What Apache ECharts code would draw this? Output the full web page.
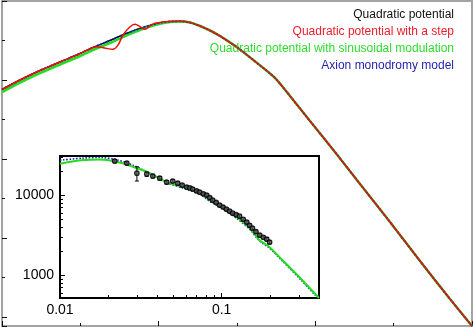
<!DOCTYPE html>
<html><head><meta charset="utf-8">
<script src="https://cdn.jsdelivr.net/npm/echarts@6/dist/echarts.min.js"></script>
<style>html,body{margin:0;padding:0;background:#fff}#c{width:474px;height:328px}</style>
</head><body><div id="c"></div>
<script>
// ---------- legend ----------
const legendNames = ['Quadratic potential', 'Quadratic potential with a step',
  'Quadratic potential with sinusoidal modulation', 'Axion monodromy model'];
const legendColors = ['#111111', '#ee1c2a', '#2edc2e', '#2424b0'];
const lineColors = ['#000000', '#e81010', '#22dd22', '#2020b8'];

// ---------- main panel (log k vs log P) ----------
const MAIN_X_MIN = 1e-4, MAIN_X_MAX = 100;
const MAIN_Y_MIN = 5.9e-4, MAIN_Y_MAX = 1e5;
const mainK = [1e-4, 1.70e-4, 3.05e-4, 5.50e-4, 9.9e-4, 1.45e-3, 2.39e-3, 3.72e-3, 5.78e-3, 8.98e-3,
  1.40e-2, 1.87e-2, 2.51e-2, 3.37e-2, 4.52e-2, 6.07e-2, 8.14e-2, 0.103, 0.180, 0.297,
  0.375, 0.475, 0.855, 1.78, 3.72, 8.98, 21.7, 52.4, 100];
const mainQuad = [574, 1000, 1738, 2852, 4684, 6645, 9990, 14600, 20120, 26160,
  30260, 30620, 28550, 23280, 17910, 12990, 8890, 6450, 2692, 1190,
  704, 393, 91.5, 15.0, 2.32, 0.253, 0.0261, 2.84e-3, 5.9e-4];
const mainAxion = [574, 1000, 1738, 2852, 4684, 6645, 9990, 14600, 20120, 26160,
  30260, 30620, 28550, 23280, 17910, 12990, 8890, 6450, 2692, 1190,
  704, 393, 91.5, 15.0, 2.32, 0.253, 0.0261, 2.84e-3, 5.9e-4];
const mainSin = [496, 864, 1502, 2466, 4048, 5743, 8640, 12990, 18430, 24680,
  29390, 30500, 28550, 23280, 17910, 12990, 8890, 6450, 2692, 1190,
  704, 393, 91.5, 15.0, 2.32, 0.253, 0.0261, 2.84e-3, 5.9e-4];
const mainStepK = [1e-4, 1.70e-4, 3.05e-4, 5.50e-4, 9.9e-4, 1.45e-3, 1.63e-3, 1.95e-3, 2.61e-3, 3.03e-3,
  3.51e-3, 4.31e-3, 4.99e-3, 5.78e-3, 6.69e-3, 7.75e-3, 8.98e-3, 1.40e-2, 1.87e-2, 2.51e-2,
  3.37e-2, 4.52e-2, 6.07e-2, 8.14e-2, 0.103, 0.180, 0.297, 0.375, 0.475, 0.855,
  1.78, 3.72, 8.98, 21.7, 52.4, 100];
const mainStep = [574, 1000, 1738, 2852, 4684, 6645, 6960, 6570, 5980, 7690,
  13770, 22340, 25700, 22340, 19200, 23280, 27240, 30260, 30620, 28550,
  23280, 17910, 12990, 8890, 6450, 2692, 1190, 704, 393, 91.5,
  15.0, 2.32, 0.253, 0.0261, 2.84e-3, 5.9e-4];

// ---------- inset panel ----------
const INSET_X_MIN = 0.01, INSET_X_MAX = 0.4;
const INSET_Y_MIN = 520, INSET_Y_MAX = 30800;
const insetK = [0.01, 0.01387, 0.01765, 0.02248, 0.02822, 0.03594, 0.04576, 0.05743, 0.0731, 0.0843,
  0.1, 0.1238, 0.1489, 0.1717, 0.1978, 0.238, 0.303, 0.3857, 0.4];
const insetSin = [24700, 27400, 27950, 26070, 22580, 18840, 14540, 12590, 10590, 8660,
  7080, 5310, 3870, 2740, 2240, 1540, 944, 562, 522];
const insetAxion = [27300, 29000, 29500, 27600, 23700, 18700, 14300, 12300, 10300, 8400,
  6900, 5150, 3760, 2670, 2180, 1500, 915, 545, 508];
const dataK = [0.0218, 0.0259, 0.0299, 0.0344, 0.0375, 0.0414, 0.0457, 0.0498, 0.0535, 0.0570,
  0.0608, 0.0635, 0.0662, 0.0700, 0.0731, 0.0770, 0.0808, 0.0845, 0.0880, 0.0925,
  0.0972, 0.102, 0.107, 0.112, 0.117, 0.123, 0.129, 0.136, 0.143, 0.149,
  0.155, 0.163, 0.172, 0.181, 0.190, 0.198];
const dataP = [26600, 25100, 18800, 18300, 17300, 16300, 14500, 15000, 14100, 13300,
  12600, 12300, 11900, 11300, 10900, 10400, 10000, 9300, 8660, 8100,
  7500, 7100, 6680, 6300, 5960, 5700, 5460, 5000, 4600, 4200,
  3870, 3500, 3160, 2980, 2820, 2590];
const dataSigma = [1300, 1200, 3800, 1100, 900, 800, 700, 700, 600, 500,
  500, 450, 450, 400, 400, 380, 360, 330, 320, 300,
  280, 260, 250, 230, 220, 210, 200, 190, 170, 160,
  150, 140, 130, 120, 110, 100];
const insetXMinorTicks = [0.02, 0.03, 0.04, 0.05, 0.06, 0.07, 0.08, 0.09, 0.2, 0.3];
const insetYMinorTicks = [600, 700, 800, 900, 2000, 3000, 4000, 5000, 6000, 7000, 8000, 9000, 20000, 30000];

const FONT = "'Liberation Sans', Arial, Helvetica, sans-serif";
const GREY = '#a3a3a3';
const zip = (a, b) => a.map((v, i) => [v, b[i]]);
const isPow10 = v => { const e = Math.log10(v); return Math.abs(e - Math.round(e)) < 1e-6; };

const chart = echarts.init(document.getElementById('c'), null, { renderer: 'canvas' });
const noLabel = () => ({ show: false });
const noSplit = () => ({ show: false });
const hiddenLine = () => ({ show: false, onZero: false });

chart.setOption({
  animation: false,
  backgroundColor: '#fff',
  legend: {
    data: legendNames.map((n, i) => ({ name: n, textStyle: { color: legendColors[i] } })),
    orient: 'vertical', right: 10, top: 1, align: 'right',
    icon: 'none', itemWidth: 0, itemHeight: 17, itemGap: 0,
    selectedMode: false,
    textStyle: { fontSize: 12, fontFamily: FONT, lineHeight: 17 }
  },
  grid: [
    { left: 2, right: 2, top: 1, bottom: 2, show: true, borderColor: GREY, borderWidth: 2,
      containLabel: false, outerBoundsMode: 'none' },
    { left: 60, top: 156, width: 259, height: 142, show: true, backgroundColor: '#fff',
      borderColor: '#000', borderWidth: 2, containLabel: false, outerBoundsMode: 'none' }
  ],
  xAxis: [
    { type: 'log', gridIndex: 0, min: MAIN_X_MIN, max: MAIN_X_MAX, position: 'bottom',
      axisLine: { show: true, onZero: false, lineStyle: { color: GREY, width: 2 } },
      axisTick: { show: true, inside: true, length: 3, lineStyle: { color: '#111', width: 1 } },
      axisLabel: noLabel(), splitLine: noSplit() },
    { type: 'value', gridIndex: 0, min: Math.log10(MAIN_X_MIN), max: Math.log10(MAIN_X_MAX), interval: 2,
      position: 'bottom', offset: 0,
      axisLine: hiddenLine(),
      axisTick: { show: true, inside: true, length: 5, lineStyle: { color: '#111', width: 1 } },
      axisLabel: noLabel(), splitLine: noSplit(), splitArea: { show: false } },
    { type: 'log', gridIndex: 1, min: INSET_X_MIN, max: INSET_X_MAX, position: 'bottom',
      axisLine: { show: true, onZero: false, lineStyle: { color: '#000', width: 2 } },
      axisTick: { show: true, inside: true, length: 5, lineStyle: { color: '#000', width: 1 } },
      axisLabel: { show: true, fontSize: 14, fontFamily: FONT, color: '#000', margin: 5,
        formatter: v => isPow10(v) ? String(v) : '' },
      splitLine: noSplit() },
    { type: 'value', gridIndex: 1, min: Math.log10(INSET_X_MIN), max: Math.log10(INSET_X_MAX),
      position: 'bottom', offset: 0,
      axisLine: hiddenLine(),
      axisTick: { show: true, inside: true, length: 3, lineStyle: { color: '#000', width: 1 },
        customValues: insetXMinorTicks.map(Math.log10) },
      axisLabel: noLabel(), splitLine: noSplit(), splitArea: { show: false } }
  ],
  yAxis: [
    { type: 'log', gridIndex: 0, min: MAIN_Y_MIN, max: MAIN_Y_MAX, position: 'left',
      axisLine: { show: true, onZero: false, lineStyle: { color: GREY, width: 2 } },
      axisTick: { show: true, inside: true, length: 3, lineStyle: { color: '#111', width: 1 } },
      axisLabel: noLabel(), splitLine: noSplit() },
    { type: 'value', gridIndex: 0, min: 0, max: Math.log10(MAIN_Y_MAX) - Math.log10(MAIN_Y_MIN),
      interval: 2, inverse: true, position: 'left', offset: 0,
      axisLine: hiddenLine(),
      axisTick: { show: true, inside: true, length: 5, lineStyle: { color: '#111', width: 1 } },
      axisLabel: noLabel(), splitLine: noSplit(), splitArea: { show: false } },
    { type: 'log', gridIndex: 1, min: INSET_Y_MIN, max: INSET_Y_MAX, position: 'left',
      axisLine: { show: true, onZero: false, lineStyle: { color: '#000', width: 2 } },
      axisTick: { show: true, inside: true, length: 5, lineStyle: { color: '#000', width: 1 } },
      axisLabel: { show: true, fontSize: 14, fontFamily: FONT, color: '#000', margin: 6,
        formatter: v => isPow10(v) ? String(v) : '' },
      splitLine: noSplit() },
    { type: 'value', gridIndex: 1, min: Math.log10(INSET_Y_MIN), max: Math.log10(INSET_Y_MAX),
      position: 'left', offset: 0,
      axisLine: hiddenLine(),
      axisTick: { show: true, inside: true, length: 3, lineStyle: { color: '#000', width: 1 },
        customValues: insetYMinorTicks.map(Math.log10) },
      axisLabel: noLabel(), splitLine: noSplit(), splitArea: { show: false } }
  ],
  series: [
    // main panel
    { name: legendNames[0], type: 'line', xAxisIndex: 0, yAxisIndex: 0, data: zip(mainK, mainQuad),
      showSymbol: false, symbol: 'none', smooth: 0.35, lineStyle: { color: lineColors[0], width: 1.5 },
      itemStyle: { color: lineColors[0] }, z: 2 },
    { name: legendNames[2], type: 'line', xAxisIndex: 0, yAxisIndex: 0, data: zip(mainK, mainSin),
      showSymbol: false, symbol: 'none', smooth: 0.35, lineStyle: { color: lineColors[2], width: 2.6 },
      itemStyle: { color: lineColors[2] }, z: 3 },
    { name: legendNames[3], type: 'line', xAxisIndex: 0, yAxisIndex: 0, data: zip(mainK, mainAxion),
      showSymbol: false, symbol: 'none', smooth: 0.35, lineStyle: { color: lineColors[3], width: 1.8, type: 'dotted' },
      itemStyle: { color: lineColors[3] }, z: 4 },
    { name: legendNames[1], type: 'line', xAxisIndex: 0, yAxisIndex: 0, data: zip(mainStepK, mainStep),
      showSymbol: false, symbol: 'none', smooth: 0.35, lineStyle: { color: lineColors[1], width: 1.5 },
      itemStyle: { color: lineColors[1] }, z: 5 },
    // inset
    { name: legendNames[3], type: 'line', xAxisIndex: 2, yAxisIndex: 2, data: zip(insetK, insetAxion),
      showSymbol: false, symbol: 'none', smooth: 0.3, lineStyle: { color: lineColors[3], width: 1.6, type: 'dotted' },
      itemStyle: { color: lineColors[3] }, z: 6 },
    { name: legendNames[2], type: 'line', xAxisIndex: 2, yAxisIndex: 2, data: zip(insetK, insetSin),
      showSymbol: false, symbol: 'none', smooth: 0.3, lineStyle: { color: lineColors[2], width: 2 },
      itemStyle: { color: lineColors[2] }, z: 7 },
    { name: 'Data error', type: 'custom', xAxisIndex: 2, yAxisIndex: 2,
      data: dataK.map((k, i) => [k, dataP[i], dataSigma[i]]),
      encode: { x: 0, y: 1 }, z: 8,
      renderItem: (params, api) => {
        const k = api.value(0), p = api.value(1), s = api.value(2);
        const lo = api.coord([k, p - s]), hi = api.coord([k, p + s]);
        const st = { stroke: '#000', lineWidth: 1 };
        return { type: 'group', children: [
          { type: 'line', shape: { x1: lo[0], y1: lo[1], x2: hi[0], y2: hi[1] }, style: st },
          { type: 'line', shape: { x1: lo[0] - 2, y1: lo[1], x2: lo[0] + 2, y2: lo[1] }, style: st },
          { type: 'line', shape: { x1: hi[0] - 2, y1: hi[1], x2: hi[0] + 2, y2: hi[1] }, style: st }
        ] };
      } },
    { name: 'Data', type: 'scatter', xAxisIndex: 2, yAxisIndex: 2, data: zip(dataK, dataP),
      symbol: 'circle', symbolSize: 4.5, z: 9,
      itemStyle: { color: '#555', borderColor: '#000', borderWidth: 1.2 } }
  ]
});
</script>
</body></html>
